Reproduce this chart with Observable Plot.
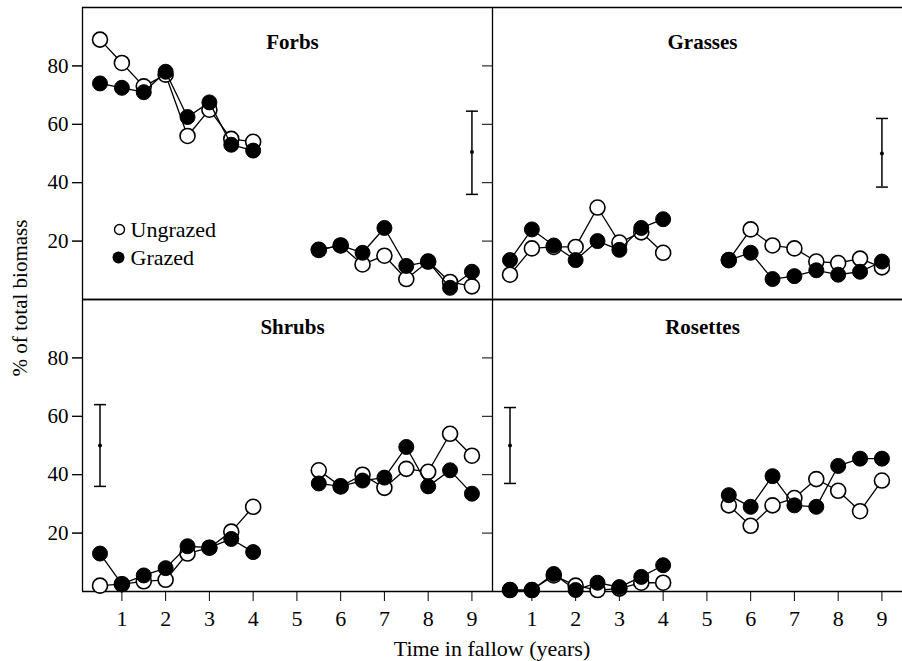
<!DOCTYPE html>
<html><head><meta charset="utf-8">
<script src="https://cdn.jsdelivr.net/npm/d3@7"></script>
<script src="https://cdn.jsdelivr.net/npm/@observablehq/plot@0.6"></script>
<style>body{margin:0;background:#fff} svg{display:block}</style>
</head><body><div id="chart"></div>
<script>
// ---- data ----
const panels = ["Forbs", "Grasses", "Shrubs", "Rosettes"];
const seriesNames = ["Ungrazed", "Grazed"];
const earlyTimes = [0.5, 1, 1.5, 2, 2.5, 3, 3.5, 4];
const lateTimes = [5.5, 6, 6.5, 7, 7.5, 8, 8.5, 9];

const forbsUngrazed = [89, 81, 73, 77, 56, 65, 55, 54, 17, 18.5, 12, 15, 7, 13, 6, 4.5];
const forbsGrazed   = [74, 72.5, 71, 78, 62.5, 67.5, 53, 51, 17, 18.5, 16, 24.5, 11.5, 13, 4, 9.5];
const grassesUngrazed = [8.5, 17.5, 18, 18, 31.5, 19.5, 23, 16, 13.5, 24, 18.5, 17.5, 13, 12.5, 14, 11];
const grassesGrazed   = [13.5, 24, 18.5, 13.5, 20, 17, 24.5, 27.5, 13.5, 16, 7, 8, 10, 8.5, 9.5, 13];
const shrubsUngrazed = [2, 2.5, 3.5, 4, 13, 15, 20.5, 29, 41.5, 36, 40, 35.5, 42, 41, 54, 46.5];
const shrubsGrazed   = [13, 2.5, 5.5, 8, 15.5, 15, 18, 13.5, 37, 36, 38, 39, 49.5, 36, 41.5, 33.5];
const rosettesUngrazed = [0.5, 0.5, 5.5, 2, 0.5, 1, 3, 3, 29.5, 22.5, 29.5, 32, 38.5, 34.5, 27.5, 38];
const rosettesGrazed   = [0.5, 0.5, 6, 0.5, 3, 1.5, 5, 9, 33, 29, 39.5, 29.5, 29, 43, 45.5, 45.5];

// error bars (one per panel)
const errTime = [9, 9, 0.5, 0.5];
const errMean = [50.5, 50, 50, 50];
const errLow  = [36, 38.5, 36, 37];
const errHigh = [64.5, 62, 64, 63];

const xTicks = [1, 2, 3, 4, 5, 6, 7, 8, 9];
const yTicks = [20, 40, 60, 80];
const xLabel = "Time in fallow (years)";
const yLabel = "% of total biomass";

// ---- build table ----
const values = {
  Forbs: [forbsUngrazed, forbsGrazed],
  Grasses: [grassesUngrazed, grassesGrazed],
  Shrubs: [shrubsUngrazed, shrubsGrazed],
  Rosettes: [rosettesUngrazed, rosettesGrazed]
};
const col = i => (i % 2 === 0 ? "L" : "R");
const row = i => (i < 2 ? "T" : "B");
const times = [...earlyTimes, ...lateTimes];
const rows = [];
panels.forEach((p, i) => {
  seriesNames.forEach((s, k) => {
    values[p][k].forEach((v, j) => {
      rows.push({panel: p, fx: col(i), fy: row(i), series: s,
                 segment: j < earlyTimes.length ? "early" : "late", t: times[j], v});
    });
  });
});
const errs = panels.map((p, i) => ({panel: p, fx: col(i), fy: row(i),
  t: errTime[i], mean: errMean[i], lo: errLow[i], hi: errHigh[i]}));
const titles = panels.map((p, i) => ({panel: p, fx: col(i), fy: row(i)}));
const legend = seriesNames.map(s => ({label: s, fx: "L", fy: "T"}));

const ung = rows.filter(d => d.series === "Ungrazed");
const grz = rows.filter(d => d.series === "Grazed");
const zKey = d => d.series + d.segment;

const xDomain = [0.1, 9.47];
const yDomain = [0, 100];

const cap = {draw(ctx, size) { const r = Math.sqrt(size / Math.PI); ctx.moveTo(-r, 0); ctx.lineTo(r, 0); }};

const chart = Plot.plot({
  width: 902, height: 661,
  marginLeft: 82, marginRight: 0, marginTop: 6, marginBottom: 70,
  style: {fontFamily: "'Liberation Serif', serif", fontSize: "21px", background: "white", color: "black"},
  fx: {domain: ["L", "R"], padding: 0, axis: null},
  fy: {domain: ["T", "B"], padding: 0, axis: null},
  x: {domain: xDomain},
  y: {domain: yDomain},
  marks: [
    // panel borders
    Plot.ruleY(yDomain, {stroke: "black", strokeWidth: 1.3}),
    Plot.ruleX([xDomain[0]], {stroke: "black", strokeWidth: 1.3}),
    // axes
    Plot.axisY({ticks: yTicks, anchor: "left", tickSize: 10, tickPadding: 4, label: null, fontSize: 21}),
    Plot.axisY({ticks: yTicks, anchor: "left", tickSize: 10, fill: "none", label: null, facetAnchor: null}),
    Plot.axisX({ticks: xTicks, anchor: "bottom", tickSize: 10, tickPadding: 9, label: null, fontSize: 22}),
    // error bars
    Plot.ruleX(errs, {fx: "fx", fy: "fy", x: "t", y1: "lo", y2: "hi", stroke: "black", strokeWidth: 1.5}),
    Plot.dot(errs, {fx: "fx", fy: "fy", x: "t", y: "lo", symbol: cap, r: 6, stroke: "black", strokeWidth: 1.5}),
    Plot.dot(errs, {fx: "fx", fy: "fy", x: "t", y: "hi", symbol: cap, r: 6, stroke: "black", strokeWidth: 1.5}),
    Plot.dot(errs, {fx: "fx", fy: "fy", x: "t", y: "mean", r: 2, fill: "black"}),
    // series
    Plot.line(ung, {fx: "fx", fy: "fy", x: "t", y: "v", z: zKey, stroke: "black", strokeWidth: 1.3}),
    Plot.dot(ung, {fx: "fx", fy: "fy", x: "t", y: "v", r: 7.5, fill: "white", stroke: "black", strokeWidth: 1.6}),
    Plot.line(grz, {fx: "fx", fy: "fy", x: "t", y: "v", z: zKey, stroke: "black", strokeWidth: 1.3}),
    Plot.dot(grz, {fx: "fx", fy: "fy", x: "t", y: "v", r: 7.5, fill: "black", stroke: "black", strokeWidth: 1}),
    // panel titles
    Plot.text(titles.filter(d => d.fy === "T"), {fx: "fx", fy: "fy", text: "panel", frameAnchor: "top", lineAnchor: "top", dy: 27, dx: 5, fontWeight: "bold", fontSize: 21}),
    Plot.text(titles.filter(d => d.fy === "B"), {fx: "fx", fy: "fy", text: "panel", frameAnchor: "top", lineAnchor: "top", dy: 20, dx: 5, fontWeight: "bold", fontSize: 21}),
    // legend
    Plot.dot(legend.slice(0, 1), {fx: "fx", fy: "fy", frameAnchor: "top-left", dx: 37, dy: 222, r: 5, fill: "white", stroke: "black", strokeWidth: 1.4}),
    Plot.dot(legend.slice(1, 2), {fx: "fx", fy: "fy", frameAnchor: "top-left", dx: 36, dy: 250, r: 6, fill: "black"}),
    Plot.text(legend.slice(0, 1), {fx: "fx", fy: "fy", text: "label", frameAnchor: "top-left", lineAnchor: "middle", textAnchor: "start", dx: 48, dy: 222, fontSize: 22}),
    Plot.text(legend.slice(1, 2), {fx: "fx", fy: "fy", text: "label", frameAnchor: "top-left", lineAnchor: "middle", textAnchor: "start", dx: 48, dy: 250, fontSize: 22})
  ]
});

const svg = d3.select(chart);
svg.append("text").attr("transform", "translate(27,298) rotate(-90)")
  .attr("text-anchor", "middle").attr("font-size", 21).attr("fill", "black").text(yLabel);
svg.append("text").attr("x", 492).attr("y", 656)
  .attr("text-anchor", "middle").attr("font-size", 22).attr("fill", "black").text(xLabel);

document.getElementById("chart").appendChild(chart);
</script>
</body></html>
